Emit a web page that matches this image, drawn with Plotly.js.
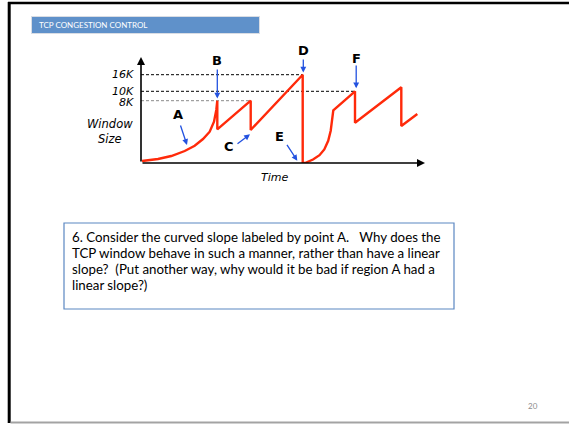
<!DOCTYPE html>
<html>
<head>
<meta charset="utf-8">
<script src="https://cdn.plot.ly/plotly-3.0.1.min.js"></script>
<style>
  html, body { margin: 0; padding: 0; background: #ffffff; }
  #slide { width: 569px; height: 424px; }
</style>
</head>
<body>
<div id="slide"></div>
<script>
// Congestion window over time (schematic units)
const time = [1, 17, 30.3, 43.7, 53.7, 62, 68.7, 73, 75.3, 76.3,
              76.3, 109.7, 109.7, 161.7, 161.7,
              164, 172, 178.5, 183.3, 187.2, 189.7, 191, 192.3,
              214, 214, 260.3, 260.3, 276.3];
const windowSize = [2, 4, 7, 12, 17.3, 24, 31.3, 41.3, 53, 62.3,
                    33.7, 62.3, 33, 88.3, 0,
                    0, 3.5, 7.8, 13.6, 22.2, 32.3, 44, 52.7,
                    71.7, 40.3, 75.7, 37, 49];

// Threshold levels and where each one meets the curve
const levelLabels = ['16K', '10K', '8K'];
const levelValues = [88.3, 71.7, 62.3];
const levelEnds = [161.7, 214, 109.7];
const levelColors = ['#000000', '#000000', '#8a8a8a'];

// Callout letters: label position and arrow tail/head
const calloutLetters = ['A', 'B', 'C', 'D', 'E', 'F'];
const calloutLabelX = [36.5, 76.3, 87.5, 162.3, 138, 215.5];
const calloutLabelY = [49, 102.5, 16.5, 113, 27, 104.5];
const calloutTailX = [39, 76.3, 95, 162.3, 145, 215.2];
const calloutTailY = [39, 95, 18, 105, 19.7, 99];
const calloutHeadX = [46, 76.3, 109, 162.3, 156.3, 215.2];
const calloutHeadY = [18, 64.5, 28.7, 90.5, 2.3, 74.7];

const questionLines = [
  '6. Consider the curved slope labeled by point A.   Why does the',
  'TCP window behave in such a manner, rather than have a linear',
  'slope?  (Put another way, why would it be bad if region A had a',
  'linear slope?)'
];

// Page geometry: plot area spans 141..430 px across, 40..163 px down
const W = 569, H = 424;
const L = 141, R = 430, T = 40, B = 163;
const px = v => (v - L) / (R - L);
const py = v => (B - v) / (B - T);

const diagramFont = 'DejaVu Sans, Verdana, sans-serif';
const textFont = 'Lato, Open Sans, sans-serif';
const blue = '#2352e0';

const traces = [];
levelValues.forEach((lv, i) => {
  traces.push({
    x: [0, levelEnds[i]], y: [lv, lv], mode: 'lines', hoverinfo: 'skip',
    line: { color: levelColors[i], width: 1, dash: '3px,2px' }
  });
});
traces.push({
  x: time, y: windowSize, mode: 'lines', hoverinfo: 'skip',
  line: { color: '#ff2a0a', width: 2.4 }
});

const annotations = [];
// axes drawn as arrows
annotations.push({ x: 284, y: 0, ax: 0, ay: 0, axref: 'x', ayref: 'y', xref: 'x', yref: 'y',
  text: '', showarrow: true, arrowhead: 2, arrowsize: 1, arrowwidth: 1.6, arrowcolor: '#000', standoff: 0 });
annotations.push({ x: 0, y: 106, ax: 0, ay: 0, axref: 'x', ayref: 'y', xref: 'x', yref: 'y',
  text: '', showarrow: true, arrowhead: 2, arrowsize: 1, arrowwidth: 1.6, arrowcolor: '#000', standoff: 0 });

levelLabels.forEach((lab, i) => {
  annotations.push({ xref: 'paper', yref: 'y', x: px(135), y: levelValues[i] + (i === 2 ? -1.8 : 0.3),
    xanchor: 'right', yanchor: 'middle', text: '<i>' + lab + '</i>', showarrow: false, borderpad: 0,
    font: { family: diagramFont, size: 11, color: '#000' } });
});

annotations.push({ xref: 'paper', yref: 'paper', x: px(110), y: py(123.5), text: '<i>Window</i>',
  showarrow: false, xanchor: 'center', yanchor: 'middle', font: { family: diagramFont, size: 11.5, color: '#000' } });
annotations.push({ xref: 'paper', yref: 'paper', x: px(110), y: py(138.5), text: '<i>Size</i>',
  showarrow: false, xanchor: 'center', yanchor: 'middle', font: { family: diagramFont, size: 11.5, color: '#000' } });
annotations.push({ xref: 'paper', yref: 'paper', x: px(274), y: py(177), text: '<i>Time</i>',
  showarrow: false, xanchor: 'center', yanchor: 'middle', font: { family: diagramFont, size: 11, color: '#000' } });

calloutLetters.forEach((c, i) => {
  annotations.push({ xref: 'x', yref: 'y', x: calloutHeadX[i], y: calloutHeadY[i],
    axref: 'x', ayref: 'y', ax: calloutTailX[i], ay: calloutTailY[i], text: '',
    showarrow: true, arrowhead: 2, arrowsize: 0.9, arrowwidth: 1.3, arrowcolor: blue, standoff: 0 });
  annotations.push({ xref: 'x', yref: 'y', x: calloutLabelX[i], y: calloutLabelY[i], text: '<b>' + c + '</b>',
    showarrow: false, xanchor: 'center', yanchor: 'middle', font: { family: diagramFont, size: 13, color: '#000' } });
});

// slide heading
annotations.push({ xref: 'paper', yref: 'paper', x: px(37), y: py(25.5), text: 'TCP CONGESTION CONTROL',
  showarrow: false, xanchor: 'left', yanchor: 'middle', font: { family: textFont, size: 8, color: '#ffffff' } });

questionLines.forEach((ln, i) => {
  annotations.push({ xref: 'paper', yref: 'paper', x: px(70), y: py(237 + 16 * i), text: ln,
    showarrow: false, xanchor: 'left', yanchor: 'middle', font: { family: textFont, size: 13.3, color: '#000' } });
});

annotations.push({ xref: 'paper', yref: 'paper', x: px(533), y: py(406), text: '20',
  showarrow: false, xanchor: 'center', yanchor: 'middle', font: { family: textFont, size: 8, color: '#8c8c8c' } });

const shapes = [
  // slide frame
  { type: 'line', xref: 'paper', yref: 'paper', x0: px(9.2), x1: px(9.2), y0: py(2), y1: py(423), line: { color: '#000', width: 3 } },
  { type: 'line', xref: 'paper', yref: 'paper', x0: px(8), x1: px(570), y0: py(3), y1: py(3), line: { color: '#000', width: 2.5 } },
  { type: 'line', xref: 'paper', yref: 'paper', x0: px(10.5), x1: px(570), y0: py(422.5), y1: py(422.5), line: { color: '#a3a3a3', width: 2 } },
  // heading bar
  { type: 'rect', xref: 'paper', yref: 'paper', x0: px(31), x1: px(260), y0: py(16), y1: py(34), fillcolor: '#d9dde4', line: { width: 0 } },
  { type: 'rect', xref: 'paper', yref: 'paper', x0: px(32), x1: px(259), y0: py(17), y1: py(33), fillcolor: '#5f91ca', line: { width: 0 } },
  // question box
  { type: 'rect', xref: 'paper', yref: 'paper', x0: px(64), x1: px(454), y0: py(223), y1: py(309), fillcolor: 'rgba(0,0,0,0)', line: { color: '#5b87c2', width: 1.2 } }
];

const layout = {
  width: W, height: H,
  margin: { l: L, r: W - R, t: T, b: H - B, pad: 0 },
  paper_bgcolor: '#ffffff', plot_bgcolor: 'rgba(0,0,0,0)',
  showlegend: false,
  xaxis: { range: [0, R - L], visible: false, fixedrange: true },
  yaxis: { range: [0, B - T], visible: false, fixedrange: true },
  annotations: annotations,
  shapes: shapes
};

Plotly.newPlot('slide', traces, layout, { staticPlot: true, displayModeBar: false });
</script>
</body>
</html>
